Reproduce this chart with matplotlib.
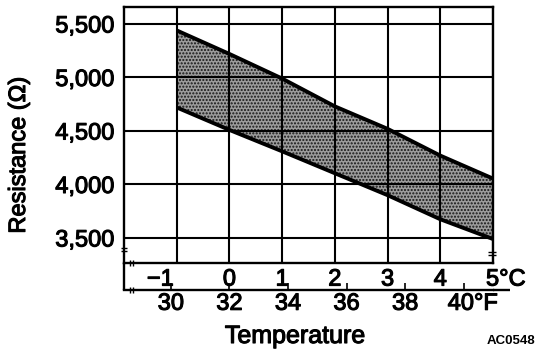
import matplotlib
matplotlib.use("Agg")
import matplotlib.pyplot as plt
import matplotlib.patheffects as pe
from matplotlib.transforms import offset_copy
from matplotlib.lines import Line2D

plt.rcParams['font.family'] = ['Liberation Sans', 'DejaVu Sans']
plt.rcParams['hatch.linewidth'] = 1.0

# Data
celsius = [-1, 0, 1, 2, 3, 4, 5]
upper = [5440, 5220, 4990, 4730, 4520, 4270, 4055]
lower = [4720, 4510, 4310, 4105, 3900, 3675, 3490]

c_ticks = [-1, 0, 1, 2, 3, 4, 5]
c_labels = ['\u22121', '0', '1', '2', '3', '4', '5\u00b0C']
f_ticks = [30, 32, 34, 36, 38, 40]
f_labels = ['30', '32', '34', '36', '38', '40\u00b0F']
y_ticks = [3500, 4000, 4500, 5000, 5500]
y_labels = ['3,500', '4,000', '4,500', '5,000', '5,500']


def c2f(c):
    return c * 9.0 / 5.0 + 32.0


def f2c(f):
    return (f - 32.0) * 5.0 / 9.0


thick = [pe.withStroke(linewidth=0.8, foreground='black')]

fig = plt.figure(figsize=(5.44, 3.56), dpi=100)
ax = fig.add_axes([124 / 544, 1 - 263 / 356, (493 - 124) / 544, (263 - 7) / 356])

ax.fill_between(celsius, upper, lower, facecolor='#9c9c9c', edgecolor='#151515',
                hatch='.....', linewidth=0, zorder=1)
ax.plot(celsius, upper, color='black', lw=2.8, zorder=3, solid_capstyle='butt')
ax.plot(celsius, lower, color='black', lw=2.8, zorder=3, solid_capstyle='butt')

ax.set_xlim(-2, 5)
ax.set_ylim(3266, 5659)
ax.set_xticks(c_ticks)
ax.set_xticklabels(c_labels)
ax.set_yticks(y_ticks)
ax.set_yticklabels(y_labels)
ax.set_axisbelow(False)
ax.grid(True, color='black', lw=1.5)
ax.tick_params(axis='both', length=0, labelsize=17)
ax.tick_params(axis='x', pad=4)
ax.tick_params(axis='y', pad=7)
for s in ax.spines.values():
    s.set_linewidth(1.7)

xl = ax.get_xticklabels()
xl[0].set_horizontalalignment('right')
xl[0].set_transform(offset_copy(xl[0].get_transform(), fig=fig, x=-3, y=0, units='dots'))
xl[-1].set_horizontalalignment('left')
xl[-1].set_transform(offset_copy(xl[-1].get_transform(), fig=fig, x=-7, y=0, units='dots'))
for t in xl + ax.get_yticklabels():
    t.set_path_effects(thick)

# Fahrenheit axis
sec = ax.secondary_xaxis(-27 / 256, functions=(c2f, f2c))
sec.set_xticks(f_ticks)
sec.set_xticklabels(f_labels)
sec.tick_params(axis='x', direction='in', length=5, width=1.2, labelsize=17, pad=2)
sec.spines['bottom'].set_linewidth(1.7)
fl = sec.get_xticklabels()
fl[-1].set_horizontalalignment('left')
fl[-1].set_transform(offset_copy(fl[-1].get_transform(), fig=fig, x=-16, y=0, units='dots'))
for t in fl:
    t.set_path_effects(thick)

W, H = 369.0, 256.0
def seg(x0, y0, x1, y1, lw=1.7):
    ax.add_line(Line2D([x0 / W, x1 / W], [y0 / H, y1 / H], transform=ax.transAxes,
                       color='black', lw=lw, clip_on=False, solid_capstyle='butt'))

seg(0, 0, 0, -27)
seg(369, -27, 386, -27)
for yy in (0, -27):
    seg(6, yy - 3, 6, yy + 3, 1.0)
    seg(9, yy - 3, 9, yy + 3, 1.0)
seg(-3, 15, 3, 15, 1.0)
seg(-3, 12, 3, 12, 1.0)
seg(364, 11, 372, 11, 1.0)
seg(364, 8, 372, 8, 1.0)

fig.text(19 / 544, 1 - 155 / 356, 'Resistance (\u03a9)', rotation=90, fontsize=17,
         ha='center', va='center', path_effects=thick)
fig.text(295 / 544, 1 - 336 / 356, 'Temperature', fontsize=18, ha='center', va='center',
         path_effects=thick)
fig.text(511 / 544, 1 - 341 / 356, 'AC0548', fontsize=9.5, fontweight='bold',
         ha='center', va='center')

fig.savefig('out.png', dpi=100)
